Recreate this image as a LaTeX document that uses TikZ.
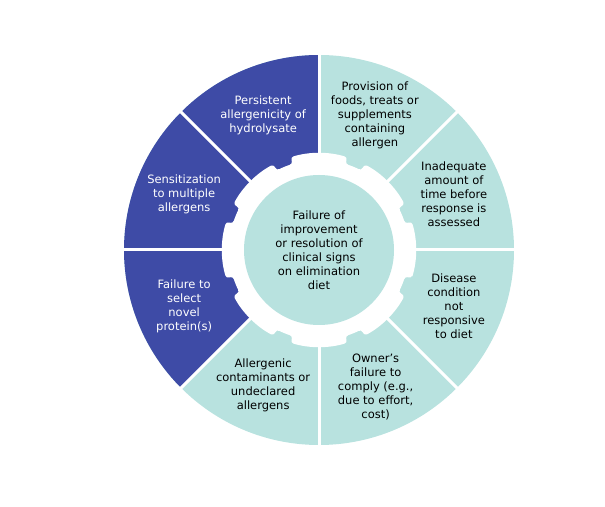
\documentclass[tikz,border=0pt]{standalone}
\usepackage{fontspec}
\setmainfont{DejaVu Sans}
\definecolor{navy}{RGB}{62,75,166}
\definecolor{aqua}{RGB}{184,226,223}
\tikzset{
  seglabel/.style={align=center,font=\fontsize{11.5}{14}\selectfont,text=black},
  darklabel/.style={seglabel,text=white},
}
\begin{document}
\begin{tikzpicture}[x=1pt,y=1pt]
%\draw[step=50,gray,very thin] (0,0) grid (605,506);
\useasboundingbox (0,0) rectangle (605,506);
\coordinate (c) at (319,256);
\begin{scope}[shift={(c)}]
\fill[aqua] (0,0) circle (195);
\fill[navy] (0,0) -- (90:195) arc[start angle=90,end angle=225,radius=195] -- cycle;
\foreach \a in {0,45,...,315}
  \draw[white,line width=3] (0,0) -- (\a:200);
% gear
\fill[white,rounded corners=3] (-17:97)
  \foreach \a in {0,45,...,315} {
    arc[start angle=\a-17,end angle=\a+17,radius=97] -- (\a+17:90)
    arc[start angle=\a+17,end angle=\a+28,radius=90] -- (\a+28:97)
  } -- cycle;
\fill[aqua] (0,0) circle (75);
\node[seglabel] (core) at (0,0) {Failure of\\improvement\\or resolution of\\clinical signs\\on elimination\\diet};
\node[darklabel] (persist) at (112.5:146) {Persistent\\allergenicity of\\hydrolysate};
\node[seglabel] (provision) at (67.5:146) {Provision of\\foods, treats or\\supplements\\containing\\allergen};
\node[seglabel] (time) at (22.5:146) {Inadequate\\amount of\\time before\\response is\\assessed};
\node[seglabel] (disease) at (-22.5:146) {Disease\\condition\\not\\responsive\\to diet};
\node[seglabel] (owner) at (-67.5:148) {Owner's\\failure to\\comply (e.g.,\\due to effort,\\cost)};
\node[seglabel] (contam) at (-112.5:146) {Allergenic\\contaminants or\\undeclared\\allergens};
\node[darklabel] (novel) at (-157.5:146) {Failure to\\select\\novel\\protein(s)};
\node[darklabel] (sens) at (157.5:146) {Sensitization\\to multiple\\allergens};
\end{scope}
\end{tikzpicture}
\end{document}
